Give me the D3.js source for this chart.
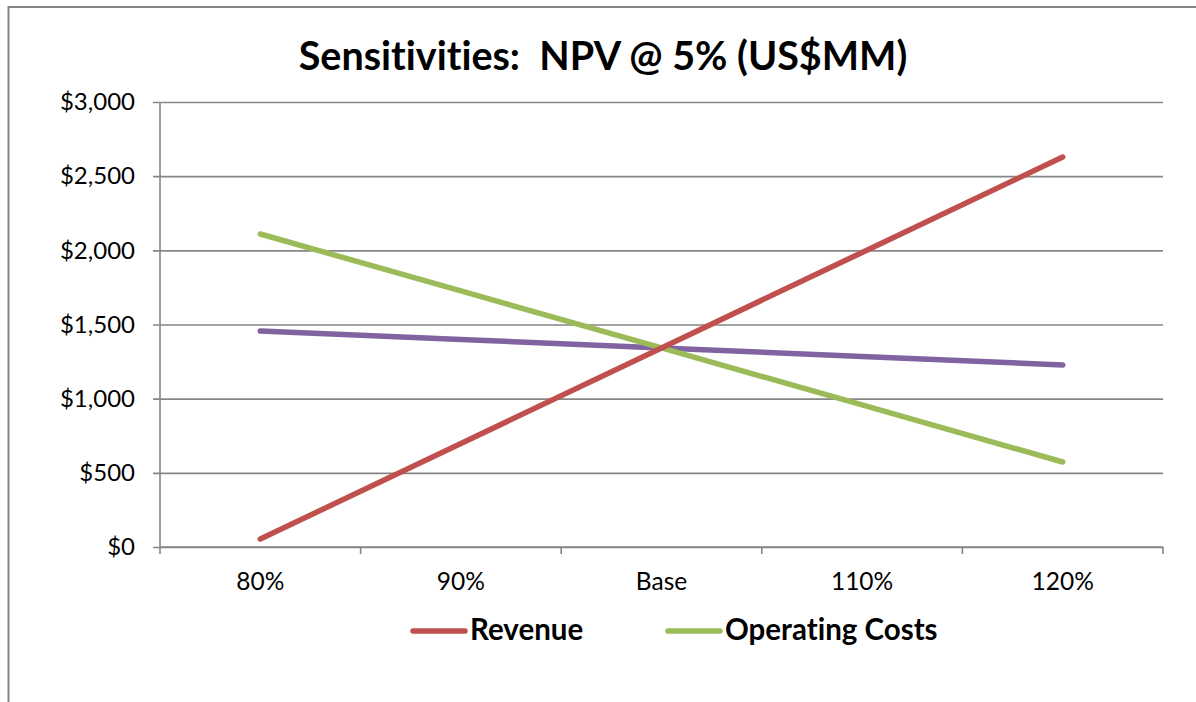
<!DOCTYPE html>
<html>
<head>
<meta charset="utf-8">
<script src="https://cdn.jsdelivr.net/npm/d3@7"></script>
<style>
  html, body { margin: 0; padding: 0; background: #fff; }
  svg { display: block; font-family: Lato, "Open Sans", sans-serif; font-variant-ligatures: none; }
</style>
</head>
<body>
<svg id="chart" width="1196" height="702"></svg>
<script>
// Sensitivity cases along the x axis
const categories = ["80%", "90%", "Base", "110%", "120%"];
// NPV @ 5% for each case (US$MM)
const revenue = [54, 698, 1342, 1986, 2629];
const operatingCosts = [2110, 1726, 1342, 958, 573];
const thirdSeries = [1456, 1399, 1342, 1285, 1227];
// Value axis ticks
const yTicks = [0, 500, 1000, 1500, 2000, 2500, 3000];

const series = [
  { name: "Revenue", values: revenue, color: "#C0504D", legend: true },
  { name: "Operating Costs", values: operatingCosts, color: "#9BBB59", legend: true },
  { name: "Other", values: thirdSeries, color: "#8064A2", legend: false }
];

const svg = d3.select("#chart");
const gridColor = "#868686";

// Outer chart frame
svg.append("rect")
  .attr("x", 8.5).attr("y", 7).attr("width", 1300).attr("height", 800)
  .attr("fill", "#fff").attr("stroke", gridColor).attr("stroke-width", 2);

const plot = { left: 160, right: 1163, top: 102, bottom: 547 };

const x = d3.scaleBand().domain(categories).range([plot.left, plot.right]);
const y = d3.scaleLinear().domain([0, 3000]).range([plot.bottom, plot.top]);

// Title
svg.append("text")
  .attr("x", 603).attr("y", 70)
  .attr("text-anchor", "middle")
  .style("white-space", "pre")
  .style("font-variant-ligatures", "none")
  .attr("font-size", 39.5).attr("font-weight", "bold").attr("fill", "#000")
  .text("Sensitivities:  NPV @ 5% (US$MM)");

// Y axis with gridlines
const yAxis = d3.axisLeft(y)
  .tickValues(yTicks)
  .tickSize(-(plot.right - plot.left))
  .tickPadding(25)
  .tickFormat(d => "$" + d3.format(",")(d));
const gy = svg.append("g").attr("transform", `translate(${plot.left},0)`).call(yAxis);
gy.select(".domain").remove();
gy.selectAll(".tick line")
  .attr("x1", -7)
  .attr("stroke", gridColor).attr("stroke-width", 1.6);
gy.selectAll(".tick text")
  .attr("font-size", 24).attr("fill", "#000")
  .attr("font-family", "Lato, 'Open Sans', sans-serif");

// Vertical value axis line
svg.append("line")
  .attr("x1", plot.left).attr("x2", plot.left)
  .attr("y1", plot.top).attr("y2", plot.bottom)
  .attr("stroke", gridColor).attr("stroke-width", 1.6);

// X axis: ticks on band boundaries, labels at band centres
const gx = svg.append("g").attr("transform", `translate(0,${plot.bottom})`);
gx.append("line")
  .attr("x1", plot.left).attr("x2", plot.right)
  .attr("stroke", gridColor).attr("stroke-width", 1.6);
const boundaries = categories.map(c => x(c)).concat([x(categories[categories.length - 1]) + x.bandwidth()]);
gx.selectAll(".btick").data(boundaries).join("line")
  .attr("class", "btick")
  .attr("x1", d => d).attr("x2", d => d)
  .attr("y1", 0).attr("y2", 7)
  .attr("stroke", gridColor).attr("stroke-width", 1.6);
gx.selectAll(".xlabel").data(categories).join("text")
  .attr("class", "xlabel")
  .attr("x", d => x(d) + x.bandwidth() / 2)
  .attr("y", 43)
  .attr("text-anchor", "middle")
  .attr("font-size", 24.5).attr("fill", "#000")
  .text(d => d);

// Series lines
const line = d3.line()
  .x((d, i) => x(categories[i]) + x.bandwidth() / 2)
  .y(d => y(d));

const drawOrder = [series[2], series[1], series[0]];
svg.selectAll(".series").data(drawOrder).join("path")
  .attr("class", "series")
  .attr("d", d => line(d.values))
  .attr("fill", "none")
  .attr("stroke", d => d.color)
  .attr("stroke-width", 5.5)
  .attr("stroke-linecap", "round")
  .attr("stroke-linejoin", "round");

// Legend
const legendItems = series.filter(s => s.legend);
const legendX = [411, 666];
const lg = svg.append("g").attr("transform", "translate(0,631)");
const item = lg.selectAll(".item").data(legendItems).join("g")
  .attr("class", "item")
  .attr("transform", (d, i) => `translate(${legendX[i]},0)`);
item.append("line")
  .attr("x1", 2).attr("x2", 54)
  .attr("stroke", d => d.color).attr("stroke-width", 5.5)
  .attr("stroke-linecap", "round");
item.append("text")
  .attr("x", 59).attr("y", 9)
  .attr("font-size", 29.5).attr("font-weight", "bold").attr("fill", "#000")
  .text(d => d.name);
</script>
</body>
</html>
